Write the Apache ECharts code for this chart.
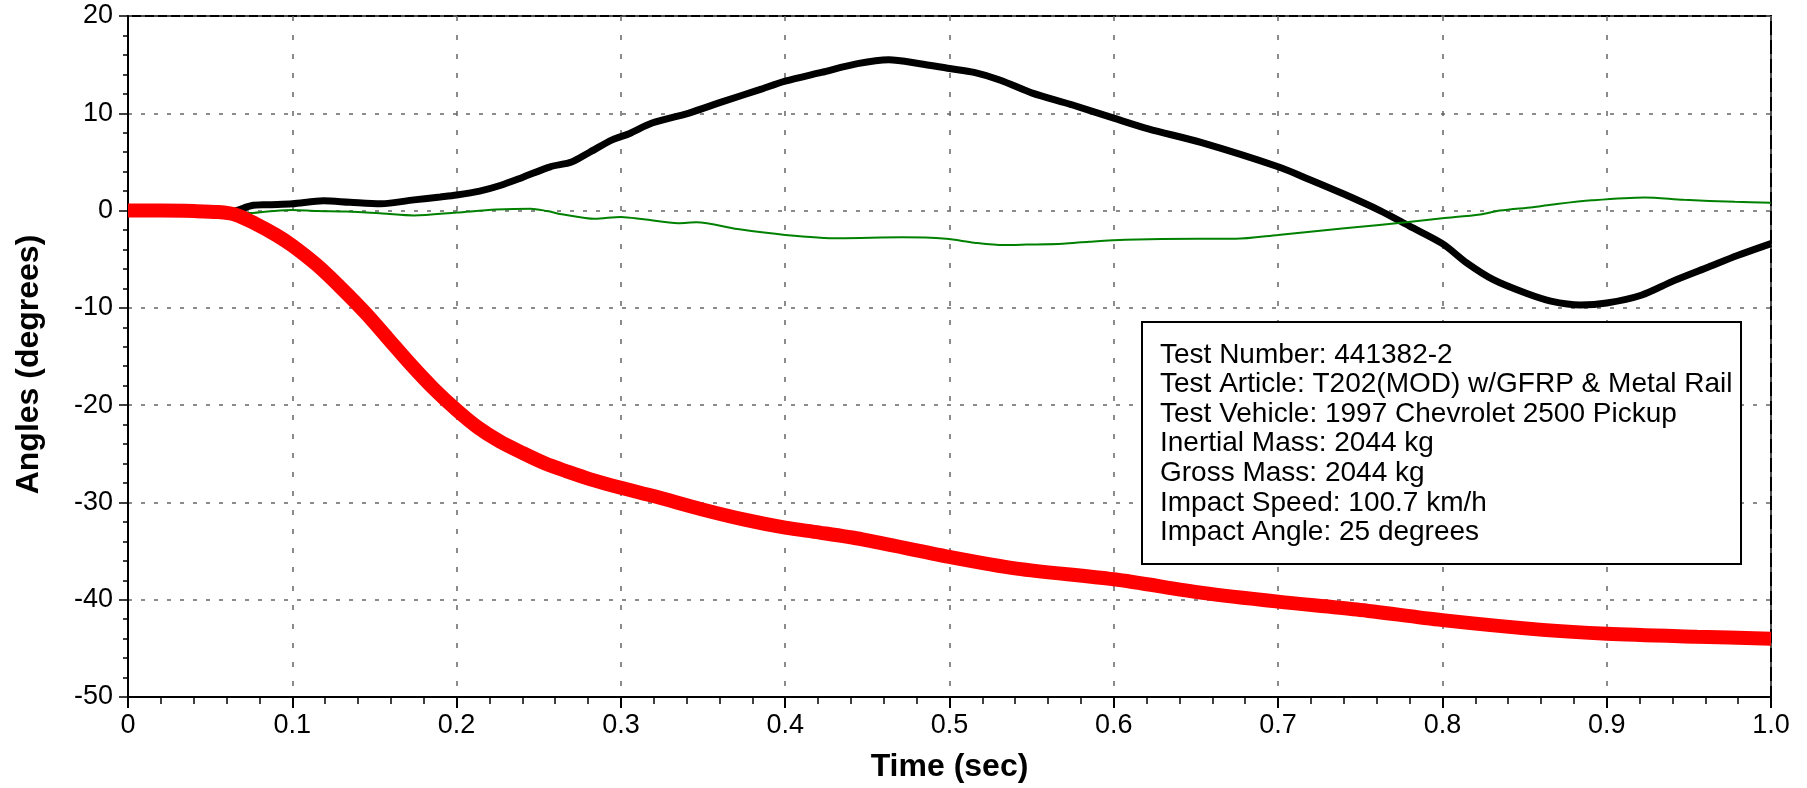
<!DOCTYPE html>
<html>
<head>
<meta charset="utf-8">
<script src="https://cdn.jsdelivr.net/npm/echarts@6/dist/echarts.min.js"></script>
<style>
html,body{margin:0;padding:0;background:#fff;}
#chart{width:1807px;height:788px;}
</style>
</head>
<body>
<div id="chart"></div>
<script>
// ---- data ----
const xTicks = [0, 0.1, 0.2, 0.3, 0.4, 0.5, 0.6, 0.7, 0.8, 0.9, 1.0];
const yTicks = [-50, -40, -30, -20, -10, 0, 10, 20];

const redTime = [0,0.02,0.04,0.055,0.065,0.077,0.09,0.1,0.115,0.13,0.145,0.158,0.172,0.186,0.2,0.213,0.226,0.24,0.254,0.267,0.281,0.3,0.321,0.349,0.376,0.4,0.421,0.447,0.5,0.541,0.6,0.654,0.7,0.748,0.8,0.861,0.9,0.955,1.0];
const redVals = [0,0,-0.05,-0.15,-0.4,-1.3,-2.5,-3.6,-5.6,-8.0,-10.6,-13.1,-15.8,-18.3,-20.5,-22.3,-23.7,-24.9,-26.0,-26.8,-27.6,-28.5,-29.4,-30.7,-31.8,-32.6,-33.1,-33.8,-35.6,-36.8,-37.9,-39.3,-40.2,-41.0,-42.1,-43.1,-43.5,-43.8,-44.0];

const blackTime = [0,0.03,0.045,0.058,0.066,0.075,0.085,0.1,0.119,0.135,0.154,0.174,0.19,0.2,0.214,0.227,0.24,0.257,0.27,0.281,0.295,0.305,0.319,0.341,0.362,0.384,0.4,0.422,0.444,0.463,0.482,0.5,0.515,0.531,0.55,0.574,0.6,0.621,0.653,0.7,0.719,0.74,0.762,0.78,0.8,0.815,0.831,0.851,0.866,0.884,0.9,0.921,0.941,0.962,0.98,1.0];
const blackVals = [0,0,-0.15,-0.3,0.0,0.5,0.6,0.7,1.0,0.85,0.7,1.1,1.4,1.6,2.0,2.6,3.4,4.5,5.0,6.0,7.3,7.9,9.0,10.0,11.2,12.4,13.3,14.2,15.1,15.5,15.1,14.6,14.2,13.4,12.1,10.9,9.5,8.4,7.0,4.5,3.2,1.7,0,-1.6,-3.4,-5.4,-7.1,-8.5,-9.3,-9.7,-9.5,-8.7,-7.2,-5.8,-4.6,-3.4];

const greenTime = [0,0.06,0.073,0.085,0.1,0.115,0.133,0.155,0.174,0.2,0.224,0.245,0.255,0.265,0.284,0.3,0.314,0.335,0.346,0.371,0.4,0.433,0.471,0.498,0.515,0.533,0.547,0.569,0.585,0.607,0.651,0.674,0.7,0.742,0.778,0.8,0.823,0.835,0.855,0.866,0.891,0.923,0.947,0.978,1.0];
const greenVals = [0,0,-0.25,-0.1,0.05,-0.05,-0.1,-0.3,-0.5,-0.2,0.1,0.2,-0.05,-0.4,-0.85,-0.65,-0.9,-1.3,-1.2,-1.9,-2.5,-2.85,-2.75,-2.9,-3.3,-3.55,-3.5,-3.4,-3.2,-3.0,-2.9,-2.9,-2.5,-1.8,-1.2,-0.8,-0.4,0,0.35,0.6,1.05,1.35,1.1,0.9,0.8];

const infoLines = [
  'Test Number: 441382-2',
  'Test Article: T202(MOD) w/GFRP & Metal Rail',
  'Test Vehicle: 1997 Chevrolet 2500 Pickup',
  'Inertial Mass: 2044 kg',
  'Gross Mass: 2044 kg',
  'Impact Speed: 100.7 km/h',
  'Impact Angle: 25 degrees'
];
const xTitle = 'Time (sec)';
const yTitle = 'Angles (degrees)';

// ---- chart ----
const zip = (t, v) => t.map((x, i) => [x, v[i]]);
const FONT = 'Liberation Sans, Arial, sans-serif';
const chart = echarts.init(document.getElementById('chart'), null, {renderer: 'canvas'});

chart.setOption({
  animation: false,
  backgroundColor: '#fff',
  grid: {left: 128, top: 16, right: 36, bottom: 91, show: true, borderColor: '#000', borderWidth: 2, backgroundColor: 'transparent'},
  xAxis: {
    type: 'value', min: xTicks[0], max: xTicks[xTicks.length - 1], interval: 0.1,
    name: xTitle, nameLocation: 'middle', nameGap: 54,
    nameTextStyle: {fontFamily: FONT, fontSize: 32, fontWeight: 'bold', color: '#000'},
    axisLine: {show: true, onZero: false, lineStyle: {color: '#000', width: 2}},
    axisTick: {show: true, inside: false, length: 11, lineStyle: {color: '#000', width: 2}},
    minorTick: {show: true, splitNumber: 5, length: 7, lineStyle: {color: '#000', width: 1.5}},
    axisLabel: {margin: 15, fontFamily: FONT, fontSize: 27, color: '#000',
      formatter: v => { const r = Math.round(v * 10) / 10; return r === 0 ? '0' : r.toFixed(1); }},
    splitLine: {show: true, lineStyle: {color: '#666', width: 1.5, type: [5, 14]}}
  },
  yAxis: {
    type: 'value', min: yTicks[0], max: yTicks[yTicks.length - 1], interval: 10,
    name: yTitle, nameLocation: 'middle', nameGap: 83,
    nameTextStyle: {fontFamily: FONT, fontSize: 32, fontWeight: 'bold', color: '#000', padding: [0, 16, 0, 0]},
    axisLine: {show: true, onZero: false, lineStyle: {color: '#000', width: 2}},
    axisTick: {show: true, inside: false, length: 9, lineStyle: {color: '#000', width: 1.5}},
    minorTick: {show: true, splitNumber: 5, length: 5, lineStyle: {color: '#000', width: 1.5}},
    axisLabel: {margin: 15, fontFamily: FONT, fontSize: 27, color: '#000'},
    splitLine: {show: true, lineStyle: {color: '#666', width: 1.5, type: [4, 9]}}
  },
  series: [
    {type: 'line', data: zip(blackTime, blackVals), showSymbol: false, smooth: 0.3,
      lineStyle: {color: '#000', width: 7}, z: 2},
    {type: 'line', data: zip(greenTime, greenVals), showSymbol: false, smooth: 0.3,
      lineStyle: {color: '#008000', width: 2}, z: 3},
    {type: 'line', data: zip(redTime, redVals), showSymbol: false, smooth: 0.3,
      lineStyle: {color: '#ff0000', width: 14}, z: 4}
  ],
  graphic: [
    {type: 'rect', z: 100, shape: {x: 1142, y: 322, width: 599, height: 242},
      style: {fill: '#fff', stroke: '#000', lineWidth: 2}},
    {type: 'text', z: 101, x: 1160, y: 340,
      style: {text: infoLines.join('\n'), font: '28px ' + FONT, lineHeight: 29.6, fill: '#000', textVerticalAlign: 'top'}}
  ]
});
</script>
</body>
</html>
